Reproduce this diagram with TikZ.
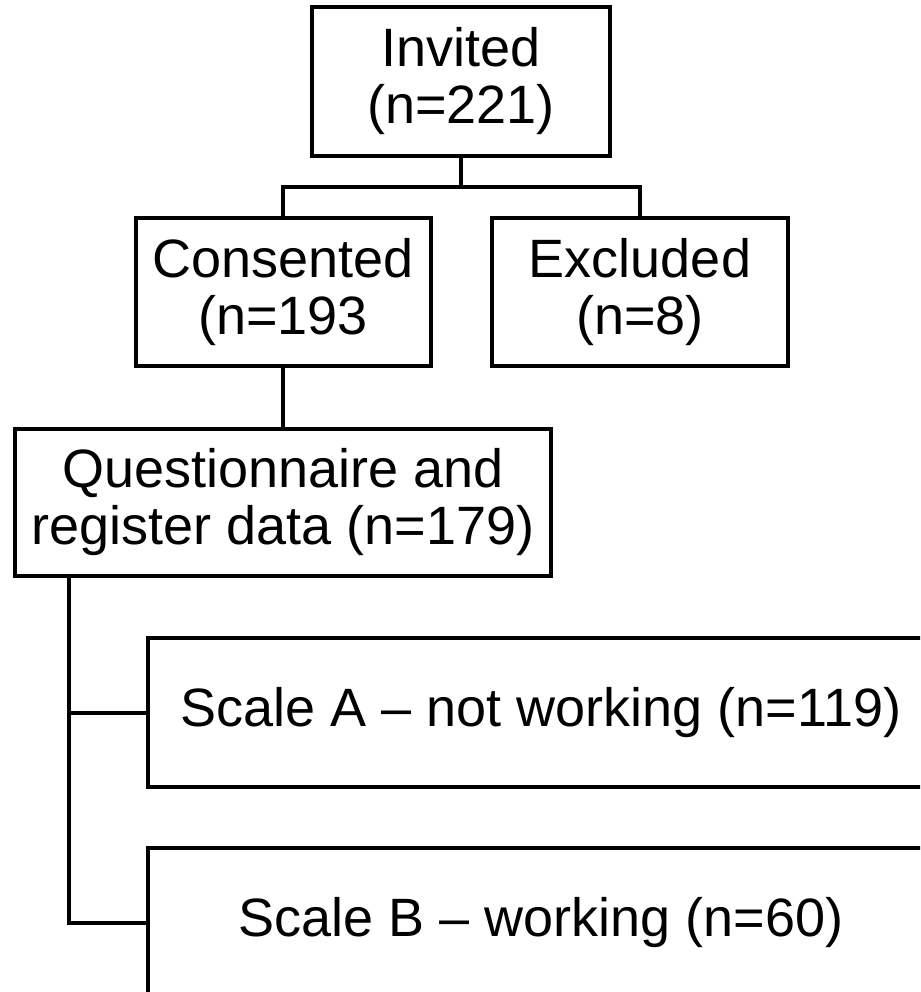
\documentclass[tikz,border=0pt]{standalone}
\usepackage{fontspec}
\setmainfont{Liberation Sans}
\usepackage{tikz}

\tikzset{
	flowbox/.style={draw, line width=4pt, align=center, inner sep=0pt,
		font=\fontsize{54}{57}\selectfont},
	link/.style={line width=4pt}
}

\begin{document}
\begin{tikzpicture}[x=1pt, y=-1pt]
		% Page frame
		\fill[white] (0,0) rectangle (920,992);
		\clip (0,0) rectangle (920,992);
		% Boxes
		\node[flowbox, minimum width=298pt, minimum height=149pt] (inv) at (461, 81.5) {Invited\\(n=221)};
		\node[flowbox, minimum width=295pt, minimum height=148pt] (cons) at (283, 292) {Consented\\(n=193};
		\node[flowbox, minimum width=296pt, minimum height=148pt] (excl) at (640, 292) {Excluded\\(n=8)};
		\node[flowbox, minimum width=536pt, minimum height=147pt] (quest) at (283, 502.5) {Questionnaire and\\register data (n=179)};
		\node[flowbox, minimum width=786pt, minimum height=149pt] (scaleA) at (541, 712.5) {Scale A -- not working (n=119)};
		\node[flowbox, minimum width=786pt, minimum height=149pt] (scaleB) at (541, 922.5) {Scale B -- working (n=60)};
		% Connectors
		\coordinate (split) at (461, 187);
		\coordinate (trunk) at (69, 576);
		\draw[link] (inv.south) -- (split);
		\draw[link] (cons.north) |- (split) -| (excl.north);
		\draw[link] (cons.south) -- (quest.north);
		\draw[link] (trunk) |- (scaleA.west);
		\draw[link] (trunk) |- (scaleB.west);
	\end{tikzpicture}
\end{document}
